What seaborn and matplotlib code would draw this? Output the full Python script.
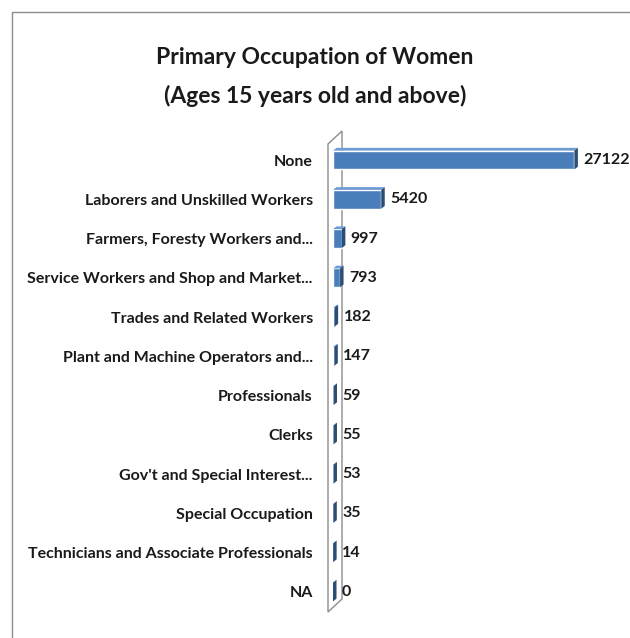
import matplotlib
matplotlib.use("Agg")
import matplotlib.pyplot as plt
import seaborn as sns
import pandas as pd
from matplotlib.patches import Polygon, Rectangle

categories = [
    "None",
    "Laborers and Unskilled Workers",
    "Farmers, Foresty Workers and...",
    "Service Workers and Shop and Market...",
    "Trades and Related Workers",
    "Plant and Machine Operators and...",
    "Professionals",
    "Clerks",
    "Gov't and Special Interest...",
    "Special Occupation",
    "Technicians and Associate Professionals",
    "NA",
]
values = [27122, 5420, 997, 793, 182, 147, 59, 55, 53, 35, 14, 0]

df = pd.DataFrame({"category": categories, "value": values})

sns.set_style("white")
plt.rcParams["font.family"] = ["Lato", "DejaVu Sans"]

W, H = 630, 638
fig = plt.figure(figsize=(W / 100, H / 100), dpi=100)

# chart border
fig.patches.append(Rectangle((12 / W, -0.1), 1.2, 1 - 12 / H + 0.1, transform=fig.transFigure,
                             fill=False, edgecolor="#8c8c8c", linewidth=1.0, zorder=0))

# back wall
wall = Polygon([(328 / W, 1 - 144 / H), (342 / W, 1 - 131 / H), (342 / W, 1 - 599 / H), (328 / W, 1 - 612 / H)],
               closed=True, transform=fig.transFigure, facecolor="white",
               edgecolor="#8c8c8c", linewidth=1.0, zorder=0)
fig.patches.append(wall)

ax = fig.add_axes([333 / W, 1 - 611.6 / H, (600 - 333) / W, (611.6 - 140.4) / H])
ax.set_zorder(2)
sns.barplot(data=df, y="category", x="value", orient="h", color="#4a7ebb",
            saturation=1, width=0.48, ax=ax)
ax.set_xlim(0, 30000)
ax.set_ylim(11.5, -0.5)
ax.set_xlabel("")
ax.set_ylabel("")
ax.set_xticks([])
for s in ax.spines.values():
    s.set_visible(False)
ax.tick_params(axis="y", length=0, pad=14.5)
for lab in ax.get_yticklabels():
    lab.set_fontweight("bold")
    lab.set_fontsize(11.5)
    lab.set_color("#1a1a1a")

# 3D-ish caps on bar ends and value labels
px = 30000 / (600 - 333)
depth_x = 3.5 * px
for p, v in zip(ax.patches, values):
    x0, y0 = p.get_x(), p.get_y()
    w, h = p.get_width(), p.get_height()
    top = Polygon([(x0, y0), (x0 + w, y0), (x0 + w + depth_x, y0 - 0.07), (x0 + depth_x, y0 - 0.07)],
                  closed=True, facecolor="#6f9bd3", edgecolor="none", zorder=p.get_zorder())
    ax.add_patch(top)
    cap = Polygon([(x0 + w, y0), (x0 + w + depth_x, y0 - 0.07),
                   (x0 + w + depth_x, y0 + h - 0.07), (x0 + w, y0 + h)],
                  closed=True, facecolor="#2c4d75", edgecolor="none", zorder=p.get_zorder())
    ax.add_patch(cap)
    ax.text(x0 + w + 9 * px, y0 + h / 2, f"{v}", va="center", ha="left",
            fontsize=11.5, fontweight="bold", color="#1a1a1a", clip_on=False)

ax.set_facecolor("none")

fig.text(0.5, 1 - 57 / H, "Primary Occupation of Women", ha="center", va="center",
         fontsize=16.5, fontweight="bold", color="#1a1a1a")
fig.text(0.5, 1 - 96 / H, "(Ages 15 years old and above)", ha="center", va="center",
         fontsize=16.5, fontweight="bold", color="#1a1a1a")

fig.savefig("out.png", dpi=100)
